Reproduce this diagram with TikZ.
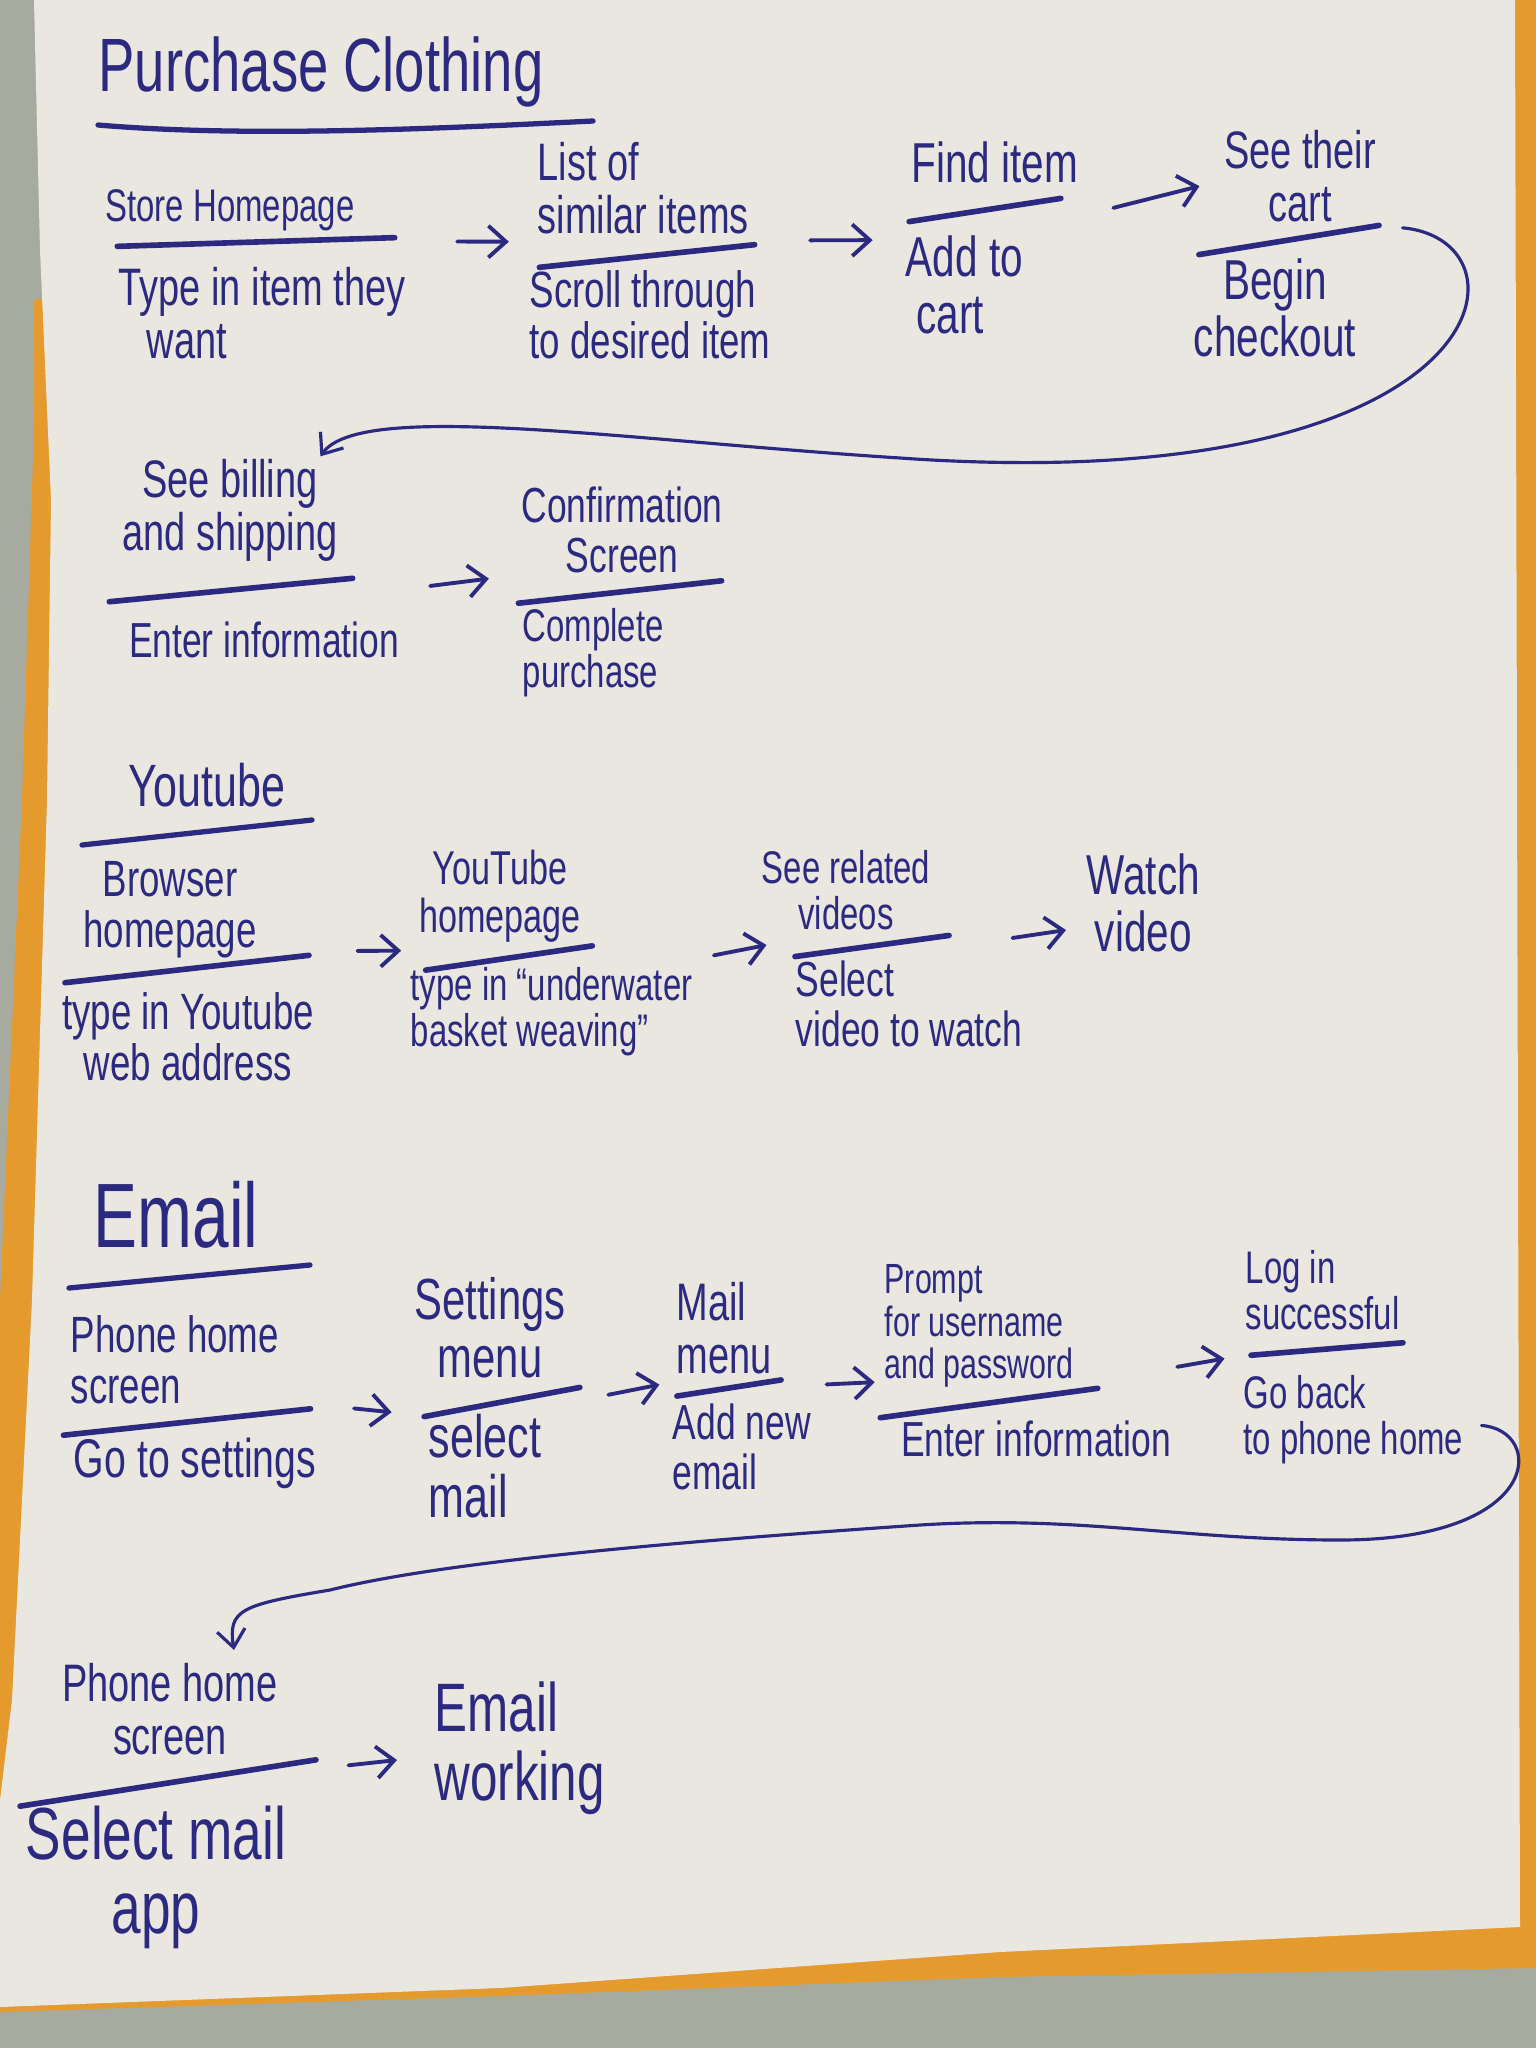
\documentclass[tikz,border=0pt]{standalone}
\usepackage{fontspec}
\setmainfont{Liberation Sans}[FakeStretch=0.72]
\usepackage{xcolor}
\usepackage{tikz}
\usetikzlibrary{arrows.meta}

\definecolor{ink}{RGB}{44,42,128}
\definecolor{paper}{RGB}{234,230,224}
\definecolor{desk}{RGB}{167,171,159}
\definecolor{folder}{RGB}{229,154,46}

\begin{document}
\begin{tikzpicture}[x=0.01cm, y=-0.01cm,
    txt/.style={text=ink, inner sep=0pt, align=center, font=\fontsize{#1}{#1}\selectfont},
    txt/.default=14,
    ttl/.style={text=ink, inner sep=0pt, font=\fontsize{#1}{#1}\selectfont},
    stepbar/.style={fill=ink, inner sep=0pt, minimum height=1.6pt, rounded corners=0.8pt},
    uline/.style={draw=ink, line width=1.5pt, line cap=round},
    nextarrow/.style={draw=ink, line width=1.1pt, line cap=round, -{Straight Barb[length=5pt,width=9pt]}},
    backarrow/.style={draw=ink, line width=0.9pt, line cap=round, -{Straight Barb[length=5pt,width=8pt]}}]

    \useasboundingbox (0,0) rectangle (1536,2048);

    % Desk, folder and sheet
    \fill[desk] (0,0) rectangle (1536,2048);
    \fill[folder] (34,300) -- (1510,0) -- (1536,0) -- (1536,1968) -- (1000,1977) -- (500,1996) -- (0,2012) -- (0,1300) -- (22,800) -- (33,460) -- cycle;
    \fill[paper] (34,0) -- (1515,0) -- (1520,1927) -- (1000,1952) -- (500,1988) -- (0,2007) -- (0,1800) -- (12,1700) -- (32,1300) -- (47,800) -- (51,500) -- (40,250) -- cycle;

    % PURCHASE CLOTHING
    \node[ttl=21.5] (titleBuy) at (321,72) {Purchase Clothing};
    \draw[uline] (98,125) .. controls (250,138) and (450,128) .. (593,121);

    % Steps
    \node[txt=13] (storeT) at (230,210) {Store Homepage};
    \node[stepbar, minimum width=2.83cm, rotate=1.8] (store) at (256,242) {};
    \node[txt=15, align=left, anchor=west] (storeB) at (118,313) {Type in item they\\\hspace*{8pt}want};

    \node[txt=15, align=left, anchor=west] (listT) at (537,188) {List of\\similar items};
    \node[stepbar, minimum width=2.22cm, rotate=6] (list) at (647,256) {};
    \node[txt=14.5, align=left, anchor=west] (listB) at (529,315) {Scroll through\\to desired item};

    \node[txt=16] (findT) at (995,162) {Find item};
    \node[stepbar, minimum width=1.59cm, rotate=8.7] (find) at (985,210) {};
    \node[txt=16, align=left, anchor=west] (findB) at (905,285) {Add to\\\hspace*{3pt}cart};

    \node[txt=15] (cartT) at (1300,176) {See their\\cart};
    \node[stepbar, minimum width=1.88cm, rotate=9.2] (cart) at (1289,240) {};
    \node[txt=16] (cartB) at (1275,308) {Begin\\checkout};

    \node[txt=15] (billingT) at (230,510) {See billing\\and shipping};
    \node[stepbar, minimum width=2.5cm, rotate=5.5] (billing) at (231,590) {};
    \node[txt=14] (billingB) at (264,640) {Enter information};

    \node[txt=14] (confirmT) at (622,530) {Confirmation\\Screen};
    \node[stepbar, minimum width=2.1cm, rotate=6.3] (confirm) at (620,592) {};
    \node[txt=13, align=left, anchor=west] (confirmB) at (522,653) {Complete\\purchase};

    % Arrows
    \draw[nextarrow] ([shift={(59,4)}]store.east) -- ([shift={(-27,-26)}]list.west);
    \draw[nextarrow] ([shift={(52,-4)}]list.east) -- ([shift={(-33,18)}]find.west);
    \draw[nextarrow] ([shift={(49,10)}]find.east) -- ([shift={(4,-69)}]cart.west);
    \draw[backarrow] ([shift={(20,3)}]cart.east) .. controls (1540,240) and (1500,500) .. (900,458)
        .. controls (620,440) and (360,400) .. ([shift={(-18,-2)}]billingT.north east);
    \draw[nextarrow] ([shift={(74,8)}]billing.east) -- ([shift={(-26,-25)}]confirm.west);

    % YOUTUBE
    \node[ttl=17] (titleYt) at (207,785) {Youtube};
    \draw[uline] (82,845) -- (312,820);

    \node[txt=14.5] (browserT) at (170,910) {Browser\\homepage};
    \node[stepbar, minimum width=2.51cm, rotate=6.4] (browser) at (187,969) {};
    \node[txt=14.5] (browserB) at (188,1037) {type in Youtube\\web address};

    \node[txt=13.5] (ythomeT) at (500,896) {YouTube\\homepage};
    \node[stepbar, minimum width=1.74cm, rotate=8.3] (ythome) at (509,958) {};
    \node[txt=13, align=left, anchor=west] (ythomeB) at (410,1012) {type in “underwater\\basket weaving”};

    \node[txt=13] (relatedT) at (846,890) {See related\\videos};
    \node[stepbar, minimum width=1.61cm, rotate=7.8] (related) at (872,946) {};
    \node[txt=14, align=left, anchor=west] (relatedB) at (795,1004) {Select\\video to watch};

    \node[txt=16, anchor=west] (watch) at (1086,903) {Watch\\video};

    % Arrows
    \draw[nextarrow] ([shift={(45,-4)}]browser.east) -- ([shift={(-21,-20)}]ythome.west);
    \draw[nextarrow] ([shift={(118,10)}]ythome.east) -- ([shift={(-25,-12)}]related.west);
    \draw[nextarrow] ([shift={(60,3)}]related.east) -- ([shift={(-20,27)}]watch.west);

    % EMAIL
    \node[ttl=26] (titleMail) at (176,1215) {Email};
    \draw[uline] (69,1288) -- (310,1265);

    \node[txt=14.5, align=left, anchor=west] (phoneT) at (70,1360) {Phone home\\screen};
    \node[stepbar, minimum width=2.54cm, rotate=6.1] (phone) at (187,1422) {};
    \node[txt=15.5] (phoneB) at (195,1463) {Go to settings};

    \node[txt=16.5] (settingsT) at (490,1328) {Settings\\menu};
    \node[stepbar, minimum width=1.64cm, rotate=10.6] (settings) at (502,1402) {};
    \node[txt=17, align=left, anchor=west] (settingsB) at (428,1466) {select\\mail};

    \node[txt=15, align=left, anchor=west] (mailT) at (676,1328) {Mail\\menu};
    \node[stepbar, minimum width=1.11cm, rotate=8.8] (mail) at (729,1388) {};
    \node[txt=14, align=left, anchor=west] (mailB) at (672,1447) {Add new\\email};

    \node[txt=12, align=left, anchor=west] (promptT) at (884,1326) {Prompt\\for username\\and password};
    \node[stepbar, minimum width=2.25cm, rotate=7.7] (prompt) at (989,1403) {};
    \node[txt=14] (promptB) at (1036,1439) {Enter information};

    \node[txt=13, align=left, anchor=west] (loginT) at (1245,1290) {Log in\\successful};
    \node[stepbar, minimum width=1.58cm, rotate=4.7] (login) at (1327,1349) {};
    \node[txt=13, align=left, anchor=west] (loginB) at (1243,1420) {Go back\\to phone home};

    \node[txt=15, anchor=north] (phone2T) at (170,1663) {Phone home\\screen};
    \node[stepbar, minimum width=3.05cm, rotate=8.9] (phone2) at (168,1783) {};
    \node[txt=21] (phone2B) at (156,1877) {Select mail\\app};

    \node[txt=19.5, align=left, anchor=west] (working) at (434,1748) {Email\\working};

    % Arrows
    \draw[nextarrow] ([shift={(40,0)}]phone.east) -- ([shift={(-29,-5)}]settings.west);
    \draw[nextarrow] ([shift={(25,8)}]settings.east) -- ([shift={(-14,-12)}]mail.west);
    \draw[nextarrow] ([shift={(42,5)}]mail.east) -- ([shift={(-2,-36)}]prompt.west);
    \draw[nextarrow] ([shift={(76,-21)}]prompt.east) -- ([shift={(-23,3)}]login.west);
    \draw[backarrow] ([shift={(75,83)}]login.east) .. controls (1545,1430) and (1545,1540) .. (1340,1540)
        .. controls (1180,1540) and (1080,1515) .. (920,1525)
        .. controls (700,1540) and (450,1560) .. (330,1590)
        .. controls (240,1605) and (228,1610) .. ([shift={(64,-13)}]phone2T.north);
    \draw[nextarrow] ([shift={(29,6)}]phone2.east) -- ([shift={(-37,12)}]working.west);

\end{tikzpicture}
\end{document}
